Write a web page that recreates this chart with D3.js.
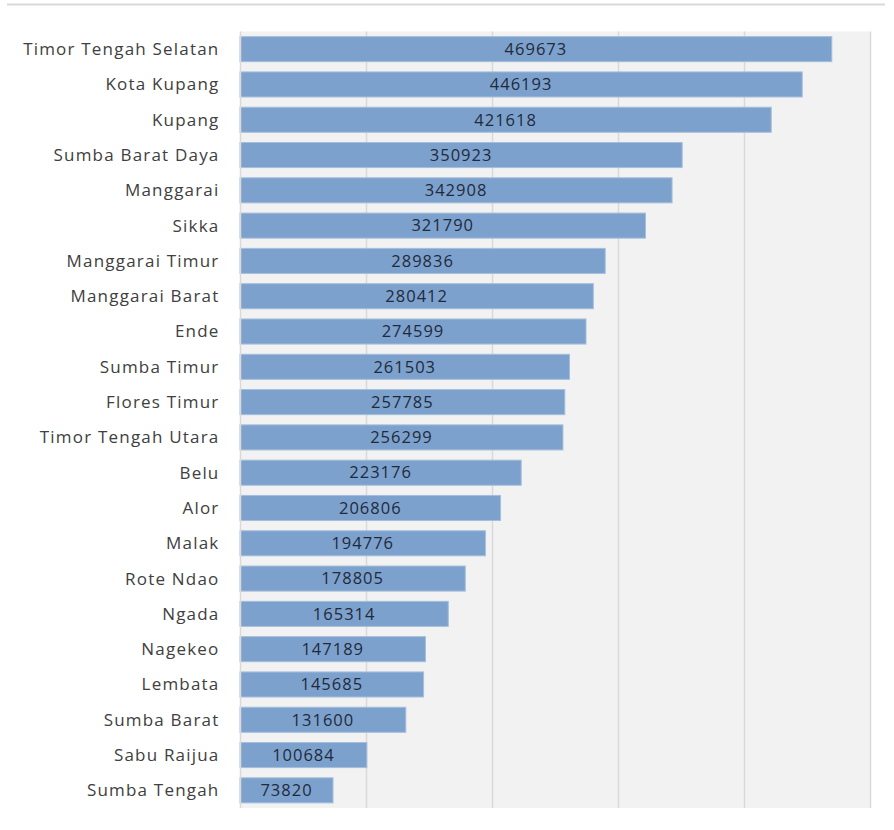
<!DOCTYPE html>
<html>
<head>
<meta charset="utf-8">
<script src="https://cdn.jsdelivr.net/npm/d3@7"></script>
<style>
  html, body { margin: 0; padding: 0; background: #ffffff; }
  svg { display: block; }
</style>
</head>
<body>
<svg id="chart" width="894" height="830"></svg>
<script>
const categories = [
  "Timor Tengah Selatan", "Kota Kupang", "Kupang", "Sumba Barat Daya", "Manggarai",
  "Sikka", "Manggarai Timur", "Manggarai Barat", "Ende", "Sumba Timur",
  "Flores Timur", "Timor Tengah Utara", "Belu", "Alor", "Malak",
  "Rote Ndao", "Ngada", "Nagekeo", "Lembata", "Sumba Barat",
  "Sabu Raijua", "Sumba Tengah"
];
const values = [
  469673, 446193, 421618, 350923, 342908,
  321790, 289836, 280412, 274599, 261503,
  257785, 256299, 223176, 206806, 194776,
  178805, 165314, 147189, 145685, 131600,
  100684, 73820
];
const xTicks = [0, 100000, 200000, 300000, 400000, 500000];

const svg = d3.select("#chart");
const plot = { left: 240, right: 870, top: 31.5, bottom: 808 };
const FONT = "'Open Sans', Lato, sans-serif";

// top border line
svg.append("line")
  .attr("x1", 7).attr("x2", 885).attr("y1", 4.5).attr("y2", 4.5)
  .attr("stroke", "#d9d9d9").attr("stroke-width", 2);

const x = d3.scaleLinear().domain([0, 500000]).range([plot.left, plot.right]);
const y = d3.scaleBand().domain(categories).range([plot.top, plot.bottom]).paddingInner(0.29).paddingOuter(0.145);

// plot background
svg.append("rect")
  .attr("x", plot.left).attr("y", plot.top)
  .attr("width", plot.right - plot.left).attr("height", plot.bottom - plot.top)
  .attr("fill", "#f2f2f2");

// gridlines
svg.append("g")
  .selectAll("line")
  .data(xTicks.slice(1))
  .join("line")
  .attr("x1", d => Math.round(x(d)) + 0.5).attr("x2", d => Math.round(x(d)) + 0.5)
  .attr("y1", plot.top).attr("y2", plot.bottom)
  .attr("stroke", "#d9d9d9").attr("stroke-width", 1.5);

// bars
svg.append("g")
  .selectAll("rect")
  .data(categories)
  .join("rect")
  .attr("x", x(0))
  .attr("y", d => y(d))
  .attr("width", (d, i) => x(values[i]) - x(0))
  .attr("height", y.bandwidth())
  .attr("fill", "#7da1cd")
  .attr("stroke", "#a5bedd")
  .attr("stroke-width", 1);

// y axis line
svg.append("line")
  .attr("x1", plot.left + 0.5).attr("x2", plot.left + 0.5)
  .attr("y1", plot.top).attr("y2", plot.bottom)
  .attr("stroke", "#d9d9d9").attr("stroke-width", 1.5);

// category labels
svg.append("g")
  .selectAll("text")
  .data(categories)
  .join("text")
  .attr("x", 219.5)
  .attr("y", d => y(d) + y.bandwidth() / 2)
  .attr("dy", "0.35em")
  .attr("text-anchor", "end")
  .attr("font-family", FONT)
  .attr("font-size", 17)
  .attr("letter-spacing", "1.2px")
  .attr("fill", "#404040")
  .text(d => d);

// value labels
svg.append("g")
  .selectAll("text")
  .data(categories)
  .join("text")
  .attr("x", (d, i) => (x(0) + x(values[i])) / 2)
  .attr("y", d => y(d) + y.bandwidth() / 2)
  .attr("dy", "0.35em")
  .attr("text-anchor", "middle")
  .attr("font-family", FONT)
  .attr("font-size", 16.5)
  .attr("letter-spacing", "1px")
  .attr("fill", "#1f2a3a")
  .text((d, i) => values[i]);
</script>
</body>
</html>
